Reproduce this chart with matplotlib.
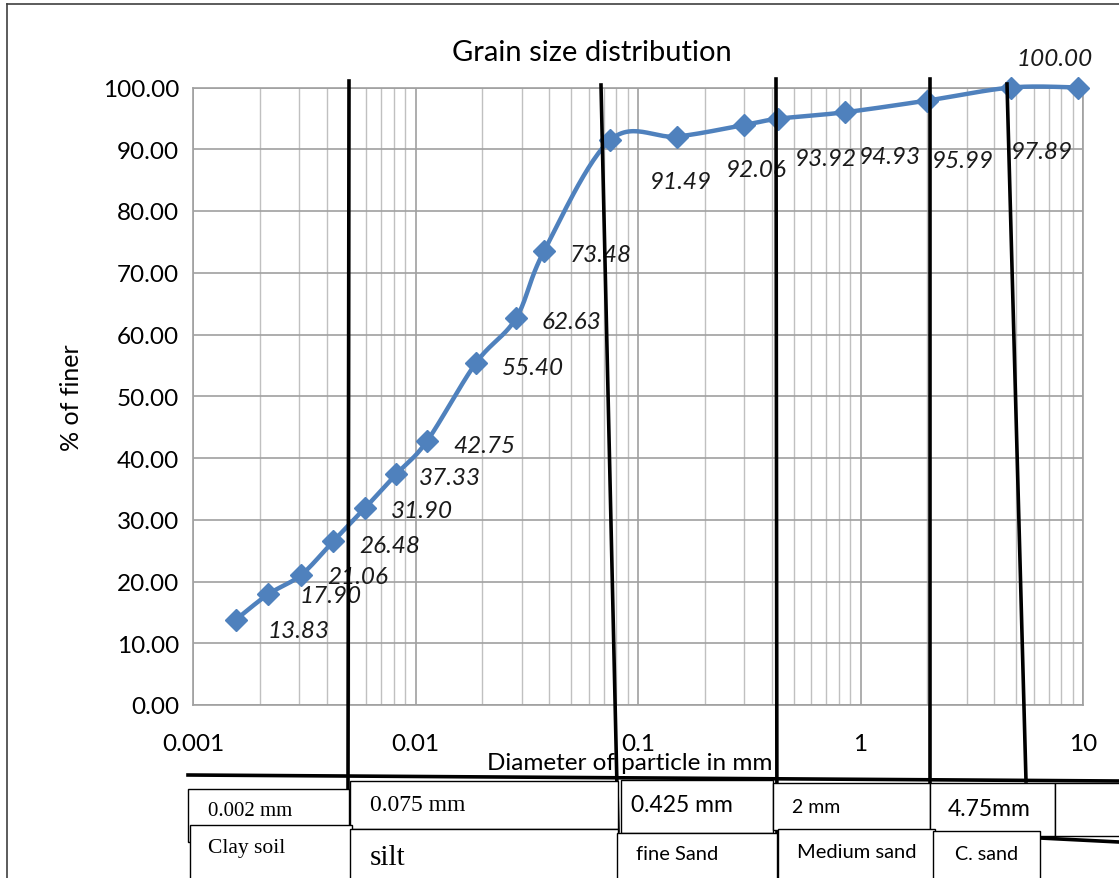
import numpy as np
import matplotlib
matplotlib.use("Agg")
import matplotlib.pyplot as plt
from matplotlib.lines import Line2D
from matplotlib.patches import Rectangle
from matplotlib.ticker import LogLocator, FixedLocator, NullFormatter

plt.rcParams['font.family'] = ['Lato', 'DejaVu Sans']

# sieve + hydrometer results
diameter = [0.00156, 0.00217, 0.00306, 0.00426, 0.00593, 0.00817, 0.01127,
            0.0187, 0.0283, 0.0378, 0.075, 0.15, 0.30, 0.425, 0.85, 2.0, 4.75, 9.5]
finer = [13.83, 17.90, 21.06, 26.48, 31.90, 37.33, 42.75, 55.40, 62.63, 73.48,
         91.49, 92.06, 93.92, 94.93, 95.99, 97.89, 100.00, 100.00]
x_ticks = [0.001, 0.01, 0.1, 1, 10]
x_tick_labels = ['0.001', '0.01', '0.1', '1', '10']

# classification boxes under the chart
size_labels = ['0.002 mm', '0.075 mm', '0.425 mm', '2 mm', '4.75mm']
soil_labels = ['Clay soil', 'silt', 'fine Sand', 'Medium sand', 'C. sand']

W, H = 1119, 879
fig = plt.figure(figsize=(W / 100, H / 100), dpi=100)


def fx(px):
    return px / W


def fy(py):
    return 1 - py / H


ax = fig.add_axes([fx(193), fy(706), fx(1083) - fx(193), fy(88.5) - fy(706)])
ax.set_xscale('log')
ax.set_xlim(0.001, 10)
ax.set_ylim(0, 100)


def smooth(xs, ys, n=30):
    # Catmull-Rom through the points in (log x, y)
    lx = np.log10(xs)
    ys = np.asarray(ys, float)
    P = np.column_stack([lx, ys])
    P = np.vstack([P[0], P, P[-1]])
    out = []
    t = np.linspace(0, 1, n)[:, None]
    for i in range(1, len(P) - 2):
        p0, p1, p2, p3 = P[i - 1], P[i], P[i + 1], P[i + 2]
        c1 = p1 + (p2 - p0) / 6
        c2 = p2 - (p3 - p1) / 6
        seg = ((1 - t) ** 3) * p1 + 3 * ((1 - t) ** 2) * t * c1 + 3 * (1 - t) * t ** 2 * c2 + t ** 3 * p2
        out.append(seg)
    out = np.vstack(out)
    return 10 ** out[:, 0], out[:, 1]


sx, sy = smooth(diameter, finer)
ax.plot(sx, sy, color='#4F81BD', lw=3.2, zorder=3, solid_capstyle='round', clip_on=False)
ax.plot(diameter, finer, 'D', color='#4F81BD', ms=11, zorder=4, clip_on=False)

# grid
ax.xaxis.set_major_locator(FixedLocator(x_ticks))
ax.set_xticklabels(x_tick_labels)
ax.xaxis.set_minor_locator(LogLocator(base=10, subs=np.arange(2, 10), numticks=20))
ax.xaxis.set_minor_formatter(NullFormatter())
ax.set_yticks(np.arange(0, 101, 10))
ax.set_yticklabels([f'{v:.2f}' for v in np.arange(0, 101, 10)])
ax.grid(True, which='major', color='#a0a0a0', lw=1.2)
ax.grid(True, which='minor', axis='x', color='#c0c0c0', lw=1.0)
ax.set_axisbelow(True)
for s in ax.spines.values():
    s.set_color('#a0a0a0')
    s.set_linewidth(1.2)
ax.tick_params(which='both', length=0, labelsize=17.5, pad=10, colors='black')
ax.tick_params(axis='x', pad=20)

fig.text(fx(592), fy(53), 'Grain size distribution', fontsize=21, ha='center', va='center')
ax.set_ylabel('% of finer', fontsize=18, labelpad=14)
fig.text(fx(630), fy(764), 'Diameter of particle in mm', fontsize=17.5,
         ha='center', va='center')

# data labels
offsets = [(45, -8), (45, -1), (41, -1), (41, -3), (41, -2), (39, -2), (41, -3),
           (41, -3), (40, -2), (41, -2), (51, -30), (57, -24), (59, -24),
           (81, -27), (85, -35), (82, -37), None, (-17, 21)]
for x, y, off in zip(diameter, finer, offsets):
    if off is None:
        continue
    ax.annotate(f'{y:.2f}', (x, y), xytext=off, textcoords='offset points',
                ha='center', va='center', fontsize=17.5, style='italic',
                color='#1a1a1a', zorder=5, annotation_clip=False)

# outer frame of the page
fig.add_artist(Line2D([fx(7), fx(7)], [fy(5), fy(879)], color='#404040', lw=1.2))
fig.add_artist(Line2D([fx(7), fx(1119)], [fy(5), fy(5)], color='#404040', lw=1.2))

# hand-drawn boundary lines
bounds = [((349, 82), (348, 790)), ((601, 86), (618, 832)), ((776, 80), (777, 879)),
          ((930, 80), (930, 832)), ((1007, 85), (1026, 782)),
          ((188, 776), (1119, 782)), ((1040, 839), (1119, 843))]
for (x0, y0), (x1, y1) in bounds:
    fig.add_artist(Line2D([fx(x0), fx(x1)], [fy(y0), fy(y1)], color='black', lw=2.6,
                          zorder=6))

# boxes: left, top, right, bottom in px
size_boxes = [(188, 790, 349, 843), (350, 782, 618, 830), (621, 781, 773, 834),
              (773, 784, 930, 831), (930, 784, 1055, 837)]
soil_boxes = [(190, 826, 352, 890), (350, 830, 618, 890), (617, 834, 777, 890),
              (778, 830, 935, 890), (933, 832, 1040, 890)]
extra_box = (1055, 784, 1125, 837)

for box in size_boxes + soil_boxes + [extra_box]:
    l, t, r, b = box
    fig.add_artist(Rectangle((fx(l), fy(b)), fx(r) - fx(l), fy(t) - fy(b),
                             facecolor='white', edgecolor='black', lw=1.0, zorder=7))

serif = ['Liberation Serif', 'DejaVu Serif']
size_text = [((250, 812), serif, 15), ((418, 806), serif, 17), ((682, 806), None, 16.5),
             ((816, 808), None, 14), ((989, 810), None, 16.5)]
soil_text = [((247, 849), serif, 15.5), ((388, 858), serif, 21), ((677, 855), None, 14.5),
             ((857, 853), None, 14.5), ((987, 855), None, 14.2)]
for lab, ((x, y), fam, fs) in zip(size_labels + soil_labels, size_text + soil_text):
    kw = {'family': fam} if fam else {}
    fig.text(fx(x), fy(y), lab, fontsize=fs, ha='center', va='center', zorder=8, **kw)

fig.savefig('out.png', dpi=100)
